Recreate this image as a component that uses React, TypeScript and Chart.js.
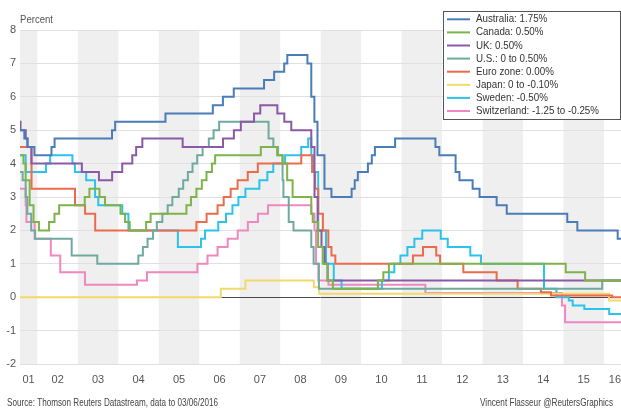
import { useEffect, useRef } from 'react';
import { Chart, registerables } from 'chart.js';

Chart.register(...registerables);

const FONT = '"Liberation Sans Narrow", "Liberation Sans", Arial, sans-serif';

type Step = [string, number];

const startDate = '2001-07-28';
const endDate = '2016-06-03';

const australia: Step[] = [
  ['2001-07-28', 5.0], ['2001-09-05', 4.75], ['2001-10-03', 4.5], ['2001-12-05', 4.25],
  ['2002-05-08', 4.5], ['2002-06-05', 4.75], ['2003-11-05', 5.0], ['2003-12-03', 5.25],
  ['2005-03-02', 5.5], ['2006-05-03', 5.75], ['2006-08-02', 6.0], ['2006-11-08', 6.25],
  ['2007-08-08', 6.5], ['2007-11-07', 6.75], ['2008-02-06', 7.0], ['2008-03-05', 7.25],
  ['2008-09-03', 7.0], ['2008-10-08', 6.0], ['2008-11-05', 5.25], ['2008-12-03', 4.25],
  ['2009-02-04', 3.25], ['2009-04-08', 3.0], ['2009-10-07', 3.25], ['2009-11-04', 3.5],
  ['2009-12-02', 3.75], ['2010-03-03', 4.0], ['2010-04-07', 4.25], ['2010-05-05', 4.5],
  ['2010-11-03', 4.75], ['2011-11-02', 4.5], ['2011-12-07', 4.25], ['2012-05-02', 3.75],
  ['2012-06-06', 3.5], ['2012-10-03', 3.25], ['2012-12-05', 3.0], ['2013-05-08', 2.75],
  ['2013-08-07', 2.5], ['2015-02-04', 2.25], ['2015-05-06', 2.0], ['2016-05-04', 1.75],
  ['2016-06-03', 1.75],
];

const canada: Step[] = [
  ['2001-07-28', 4.25], ['2001-08-28', 4.0], ['2001-09-17', 3.5], ['2001-10-23', 2.75],
  ['2001-11-27', 2.25], ['2002-01-15', 2.0], ['2002-04-16', 2.25], ['2002-06-04', 2.5],
  ['2002-07-16', 2.75], ['2003-03-04', 3.0], ['2003-04-15', 3.25], ['2003-07-15', 3.0],
  ['2003-09-03', 2.75], ['2004-01-20', 2.5], ['2004-03-02', 2.25], ['2004-04-13', 2.0],
  ['2004-09-08', 2.25], ['2004-10-19', 2.5], ['2005-09-07', 2.75], ['2005-10-18', 3.0],
  ['2005-12-06', 3.25], ['2006-01-24', 3.5], ['2006-03-07', 3.75], ['2006-04-25', 4.0],
  ['2006-05-24', 4.25], ['2007-07-10', 4.5], ['2007-12-04', 4.25], ['2008-01-22', 4.0],
  ['2008-03-04', 3.5], ['2008-04-22', 3.0], ['2008-10-08', 2.5], ['2008-10-21', 2.25],
  ['2008-12-09', 1.5], ['2009-01-20', 1.0], ['2009-03-03', 0.5], ['2009-04-21', 0.25],
  ['2010-06-01', 0.5], ['2010-07-20', 0.75], ['2010-09-08', 1.0], ['2015-01-21', 0.75],
  ['2015-07-15', 0.5], ['2016-06-03', 0.5],
];

const uk: Step[] = [
  ['2001-07-28', 5.25], ['2001-08-02', 5.0], ['2001-09-18', 4.75], ['2001-10-04', 4.5],
  ['2001-11-08', 4.0], ['2003-02-06', 3.75], ['2003-07-10', 3.5], ['2003-11-06', 3.75],
  ['2004-02-05', 4.0], ['2004-05-06', 4.25], ['2004-06-10', 4.5], ['2004-08-05', 4.75],
  ['2005-08-04', 4.5], ['2006-08-03', 4.75], ['2006-11-09', 5.0], ['2007-01-11', 5.25],
  ['2007-05-10', 5.5], ['2007-07-05', 5.75], ['2007-12-06', 5.5], ['2008-02-07', 5.25],
  ['2008-04-10', 5.0], ['2008-10-08', 4.5], ['2008-11-06', 3.0], ['2008-12-04', 2.0],
  ['2009-01-08', 1.5], ['2009-02-05', 1.0], ['2009-03-05', 0.5], ['2016-06-03', 0.5],
];

const us: Step[] = [
  ['2001-07-28', 3.75], ['2001-08-21', 3.5], ['2001-09-17', 3.0], ['2001-10-02', 2.5],
  ['2001-11-06', 2.0], ['2001-12-11', 1.75], ['2002-11-06', 1.25], ['2003-06-25', 1.0],
  ['2004-06-30', 1.25], ['2004-08-10', 1.5], ['2004-09-21', 1.75], ['2004-11-10', 2.0],
  ['2004-12-14', 2.25], ['2005-02-02', 2.5], ['2005-03-22', 2.75], ['2005-05-03', 3.0],
  ['2005-06-30', 3.25], ['2005-08-09', 3.5], ['2005-09-20', 3.75], ['2005-11-01', 4.0],
  ['2005-12-13', 4.25], ['2006-01-31', 4.5], ['2006-03-28', 4.75], ['2006-05-10', 5.0],
  ['2006-06-29', 5.25], ['2007-09-18', 4.75], ['2007-10-31', 4.5], ['2007-12-11', 4.25],
  ['2008-01-22', 3.5], ['2008-01-30', 3.0], ['2008-03-18', 2.25], ['2008-04-30', 2.0],
  ['2008-10-08', 1.5], ['2008-10-29', 1.0], ['2008-12-16', 0.25], ['2015-12-16', 0.5],
  ['2016-06-03', 0.5],
];

const euroZone: Step[] = [
  ['2001-07-28', 4.5], ['2001-11-09', 3.25], ['2002-12-06', 2.75], ['2003-03-07', 2.5],
  ['2003-06-06', 2.0], ['2005-12-06', 2.25], ['2006-03-08', 2.5], ['2006-06-15', 2.75],
  ['2006-08-09', 3.0], ['2006-10-11', 3.25], ['2006-12-13', 3.5], ['2007-03-14', 3.75],
  ['2007-06-13', 4.0], ['2008-07-09', 4.25], ['2008-10-15', 3.75], ['2008-11-12', 3.25],
  ['2008-12-10', 2.5], ['2009-01-21', 2.0], ['2009-03-11', 1.5], ['2009-04-08', 1.25],
  ['2009-05-13', 1.0], ['2011-04-13', 1.25], ['2011-07-13', 1.5], ['2011-11-09', 1.25],
  ['2011-12-14', 1.0], ['2012-07-11', 0.75], ['2013-05-08', 0.5], ['2013-11-13', 0.25],
  ['2014-06-11', 0.15], ['2014-09-10', 0.05], ['2016-03-16', 0.0], ['2016-06-03', 0.0],
];

const japan: Step[] = [
  ['2001-07-28', 0.0], ['2006-07-14', 0.25], ['2007-02-21', 0.5], ['2008-10-31', 0.3],
  ['2008-12-19', 0.1], ['2016-02-16', -0.1], ['2016-06-03', -0.1],
];

const sweden: Step[] = [
  ['2001-07-28', 4.25], ['2001-09-17', 3.75], ['2002-03-19', 4.0], ['2002-04-26', 4.25],
  ['2002-11-13', 4.0], ['2002-12-05', 3.75], ['2003-03-17', 3.5], ['2003-06-05', 3.0],
  ['2003-07-04', 2.75], ['2004-02-06', 2.5], ['2004-04-01', 2.0], ['2005-06-22', 1.5],
  ['2006-01-16', 1.75], ['2006-02-22', 2.0], ['2006-06-21', 2.25], ['2006-08-30', 2.5],
  ['2006-10-27', 2.75], ['2006-12-20', 3.0], ['2007-02-21', 3.25], ['2007-06-27', 3.5],
  ['2007-09-07', 3.75], ['2007-10-30', 4.0], ['2008-02-14', 4.25], ['2008-07-09', 4.5],
  ['2008-09-10', 4.75], ['2008-10-08', 4.25], ['2008-10-29', 3.75], ['2008-12-10', 2.0],
  ['2009-02-18', 1.0], ['2009-04-29', 0.5], ['2009-07-08', 0.25], ['2010-07-07', 0.5],
  ['2010-09-08', 0.75], ['2010-10-27', 1.0], ['2010-12-21', 1.25], ['2011-02-22', 1.5],
  ['2011-04-26', 1.75], ['2011-07-06', 2.0], ['2011-12-20', 1.75], ['2012-02-21', 1.5],
  ['2012-09-12', 1.25], ['2012-12-18', 1.0], ['2014-07-09', 0.25], ['2014-10-29', 0.0],
  ['2015-02-18', -0.1], ['2015-03-25', -0.25], ['2015-07-08', -0.35], ['2016-02-17', -0.5],
  ['2016-06-03', -0.5],
];

const switzerland: Step[] = [
  ['2001-07-28', 3.25], ['2001-09-17', 2.75], ['2001-09-24', 2.25], ['2001-12-07', 1.75],
  ['2002-05-02', 1.25], ['2002-07-26', 0.75], ['2003-03-06', 0.375], ['2004-06-17', 0.5],
  ['2004-09-16', 0.75], ['2005-12-15', 1.0], ['2006-03-16', 1.25], ['2006-06-15', 1.5],
  ['2006-09-14', 1.75], ['2006-12-14', 2.0], ['2007-03-15', 2.25], ['2007-06-14', 2.5],
  ['2007-09-13', 2.75], ['2008-10-08', 2.5], ['2008-11-06', 2.0], ['2008-11-20', 1.0],
  ['2008-12-11', 0.5], ['2009-03-12', 0.375], ['2011-08-03', 0.125], ['2014-12-18', -0.25],
  ['2015-01-15', -0.75], ['2016-06-03', -0.75],
];

const seriesData: Step[][] = [australia, canada, uk, us, euroZone, japan, sweden, switzerland];
const legendLabels = [
  'Australia: 1.75%',
  'Canada: 0.50%',
  'UK: 0.50%',
  'U.S.: 0 to 0.50%',
  'Euro zone: 0.00%',
  'Japan: 0 to -0.10%',
  'Sweden: -0.50%',
  'Switzerland: -1.25 to -0.25%',
];
const seriesColors = ['#4a7db8', '#7db34a', '#8a5aa6', '#6eab9e', '#ec6b4c', '#f3d86a', '#2cc3ea', '#ef88c0'];

const xTickLabels = ['01', '02', '03', '04', '05', '06', '07', '08', '09', '10', '11', '12', '13', '14', '15', '16'];
const xTickPositions = [2001.78, 2002.5, 2003.5, 2004.5, 2005.5, 2006.5, 2007.5, 2008.5, 2009.5, 2010.5, 2011.5, 2012.5, 2013.5, 2014.5, 2015.5, 2016.27];
const shadedYears = [2001, 2003, 2005, 2007, 2009, 2011, 2013, 2015];
const yMin = -2;
const yMax = 8;

const yAxisTitle = 'Percent';
const sourceText = 'Source: Thomson Reuters Datastream, data to 03/06/2016';
const creditText = 'Vincent Flasseur @ReutersGraphics';

function toYear(d: string): number {
  const [y, m, dd] = d.split('-').map(Number);
  const s = Date.UTC(y, 0, 1);
  const e = Date.UTC(y + 1, 0, 1);
  return y + (Date.UTC(y, m - 1, dd) - s) / (e - s);
}

function drawFitted(
  ctx: CanvasRenderingContext2D,
  text: string,
  x: number,
  y: number,
  size: number,
  color: string,
  scaleX: number,
) {
  ctx.save();
  ctx.font = `${size}px ${FONT}`;
  ctx.translate(x, y);
  ctx.scale(scaleX, 1);
  ctx.fillStyle = color;
  ctx.textAlign = 'left';
  ctx.textBaseline = 'middle';
  ctx.fillText(text, 0, 0);
  ctx.restore();
}

function scaleFor(ctx: CanvasRenderingContext2D, text: string, size: number, width: number) {
  ctx.save();
  ctx.font = `${size}px ${FONT}`;
  const w = ctx.measureText(text).width;
  ctx.restore();
  return w > 0 ? width / w : 1;
}

const bandsPlugin = {
  id: 'bands',
  beforeDraw(chart: any) {
    const { ctx, chartArea: a, scales } = chart;
    const x = scales.x;
    ctx.save();
    ctx.fillStyle = '#efefef';
    for (const yr of shadedYears) {
      const x0 = Math.max(x.getPixelForValue(yr), a.left);
      const x1 = Math.min(x.getPixelForValue(yr + 1), a.right);
      if (x1 > x0) ctx.fillRect(x0, a.top, x1 - x0, a.bottom - a.top);
    }
    ctx.restore();
  },
};

const overlayPlugin = {
  id: 'overlay',
  afterDraw(chart: any) {
    const { ctx } = chart;
    // axis title
    drawFitted(ctx, yAxisTitle, 20, 20, 11, '#555', scaleFor(ctx, yAxisTitle, 11, 33));
    // legend box
    ctx.save();
    ctx.fillStyle = '#ffffff';
    ctx.fillRect(443.5, 11.5, 177, 108);
    ctx.strokeStyle = '#555';
    ctx.lineWidth = 1;
    ctx.strokeRect(443.5, 11.5, 177, 108);
    ctx.restore();
    const ls = scaleFor(ctx, legendLabels[7], 11, 123);
    legendLabels.forEach((lab, i) => {
      const yy = 19.3 + i * 13.1;
      ctx.save();
      ctx.strokeStyle = seriesColors[i];
      ctx.lineWidth = 2;
      ctx.beginPath();
      ctx.moveTo(447, yy);
      ctx.lineTo(470, yy);
      ctx.stroke();
      ctx.restore();
      drawFitted(ctx, lab, 476, yy, 11, '#333', ls);
    });
    // footer
    drawFitted(ctx, sourceText, 7, 403, 11, '#444', scaleFor(ctx, sourceText, 11, 211));
    drawFitted(ctx, creditText, 480, 403, 11, '#444', scaleFor(ctx, creditText, 11, 133));
  },
};

export default function App() {
  const ref = useRef<HTMLCanvasElement | null>(null);

  useEffect(() => {
    document.body.style.margin = '0';
    const canvas = ref.current;
    if (!canvas) return;
    const datasets = seriesData.map((s, i) => ({
      label: legendLabels[i],
      data: s.map(([d, v]) => ({ x: toYear(d), y: v })),
      borderColor: seriesColors[i],
      backgroundColor: seriesColors[i],
      borderWidth: 2,
      pointRadius: 0,
      stepped: true,
      fill: false,
    }));
    const chart = new Chart(canvas, {
      type: 'line',
      data: { datasets },
      plugins: [bandsPlugin, overlayPlugin],
      options: {
        animation: false,
        responsive: false,
        maintainAspectRatio: false,
        layout: { padding: { top: 30, right: 0, bottom: 0, left: 0 } },
        plugins: {
          legend: { display: false },
          tooltip: { enabled: false },
        },
        scales: {
          x: {
            type: 'linear',
            min: toYear(startDate),
            max: toYear(endDate),
            grid: { display: false },
            border: { display: false },
            ticks: {
              autoSkip: false,
              maxRotation: 0,
              minRotation: 0,
              padding: 1,
              color: '#555',
              font: { family: FONT, size: 11 },
              callback: (_v: any, i: number) => xTickLabels[i],
            },
            afterBuildTicks: (s: any) => {
              s.ticks = xTickPositions.map((v) => ({ value: v }));
            },
            afterFit: (s: any) => {
              s.height = 44;
              s.paddingLeft = 0;
              s.paddingRight = 0;
            },
          },
          y: {
            type: 'linear',
            min: yMin,
            max: yMax,
            border: { display: false },
            grid: {
              drawTicks: false,
              lineWidth: 1,
              color: (c: any) => (c.tick && c.tick.value === 0 ? '#4a4a4a' : '#e0e0e0'),
            },
            ticks: {
              stepSize: 1,
              padding: 4,
              color: '#555',
              font: { family: FONT, size: 11 },
            },
            afterFit: (s: any) => {
              s.width = 20;
              s.paddingTop = 0;
              s.paddingBottom = 0;
            },
          },
        },
      } as any,
    });
    return () => chart.destroy();
  }, []);

  return <canvas ref={ref} width={621} height={408} style={{ display: 'block', width: 621, height: 408 }} />;
}
